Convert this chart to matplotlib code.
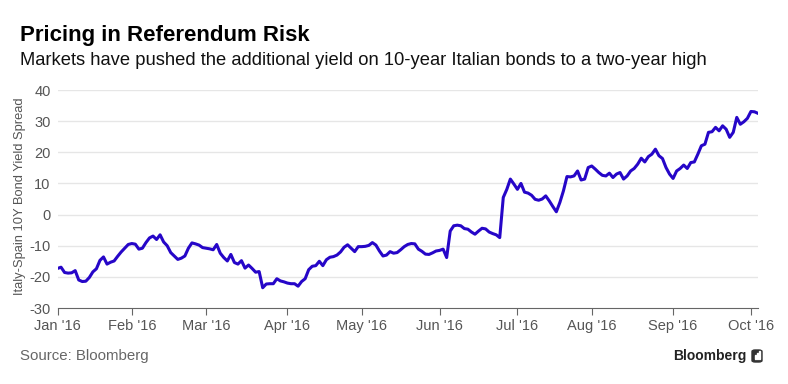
import numpy as np
import pandas as pd
import matplotlib
matplotlib.use('Agg')
import matplotlib.pyplot as plt
from matplotlib.patches import FancyBboxPatch, Rectangle

plt.rcParams['font.family'] = ['Liberation Sans', 'DejaVu Sans']
plt.rcParams['axes.unicode_minus'] = False

# business days, Jan 1 2016 -> Oct 5 2016
days = pd.bdate_range('2016-01-01', '2016-10-05')

# Italy-Spain 10Y spread (bp), one value per business day
spread = [
    -17.3, -16.9, -18.6, -18.8, -18.7, -18.0, -21.0, -21.5, -21.4, -20.2,
    -18.4, -17.4, -14.7, -13.6, -15.9, -15.3, -14.9, -13.4, -12.0, -10.8,
    -9.6, -9.3, -9.5, -11.1, -10.8, -9.0, -7.5, -6.9, -8.0, -6.5,
    -8.8, -10.0, -12.2, -13.3, -14.4, -14.0, -13.3, -10.8, -9.1, -9.4,
    -9.8, -10.6, -10.8, -11.0, -11.3, -9.6, -12.4, -13.8, -14.9, -12.8,
    -15.4, -15.9, -14.8, -17.2, -16.2, -17.3, -18.5, -18.3, -23.5, -22.3,
    -22.2, -22.2, -20.6, -21.3, -21.6, -22.0, -22.2, -22.2, -23.0, -21.5,
    -20.6, -17.7, -16.6, -16.4, -15.0, -16.4, -14.5, -13.7, -13.5, -13.0,
    -12.0, -10.5, -9.7, -10.8, -11.9, -10.3, -10.3, -10.2, -9.9, -9.0,
    -9.8, -11.7, -13.3, -13.0, -11.9, -12.4, -12.2, -11.3, -10.3, -9.6,
    -9.3, -9.4, -11.1, -11.8, -12.7, -12.8, -12.3, -11.7, -11.5, -11.1,
    -13.8, -5.3, -3.6, -3.4, -3.6, -4.5, -4.7, -5.6, -6.3, -5.3,
    -4.4, -4.6, -5.6, -6.1, -6.5, -7.4, 5.5, 8.1, 11.4, 9.8,
    8.1, 10.0, 7.2, 6.9, 6.2, 4.9, 4.6, 5.0, 6.0, 4.4,
    2.6, 0.9, 3.9, 7.6, 12.2, 12.1, 12.4, 14.0, 11.1, 11.4,
    15.1, 15.6, 14.6, 13.5, 12.6, 12.4, 13.3, 11.9, 13.0, 13.5,
    11.4, 12.4, 14.0, 14.8, 16.2, 18.1, 16.9, 18.6, 19.4, 21.0,
    18.9, 18.0, 15.1, 13.0, 11.6, 14.0, 14.8, 15.9, 14.8, 16.7,
    16.9, 19.4, 22.1, 22.6, 26.4, 26.6, 28.0, 26.9, 28.5, 27.4,
    24.8, 26.4, 31.2, 29.0, 29.8, 30.9, 33.1, 33.0, 32.5,
]
y_ticks = [-30, -20, -10, 0, 10, 20, 30, 40]

W, H = 788, 384
fig = plt.figure(figsize=(W / 100, H / 100), dpi=100)
ax = fig.add_axes([57.5 / W, 1 - 308 / H, 700.5 / W, 218 / H])

x = np.arange(len(spread))
ax.plot(x, spread, color='#2606c8', lw=2.2, solid_joinstyle='round', zorder=3)

ax.set_xlim(0, len(spread) - 1)
ax.set_ylim(-30, 40)
ax.set_yticks(y_ticks)
for v in y_ticks[1:]:
    ax.axhline(v, color='#e6e6e6', lw=1, zorder=0)

# ticks at first business day of each month
idx = [i for i in range(len(days)) if i == 0 or days[i].month != days[i - 1].month]
ax.set_xticks(idx)
ax.set_xticklabels([days[i].strftime("%b '%y") for i in idx])

for s in ['top', 'right', 'left']:
    ax.spines[s].set_visible(False)
ax.spines['bottom'].set_color('#666666')
ax.tick_params(axis='y', length=0, pad=5, labelsize=10.5, labelcolor='#555555')
ax.tick_params(axis='x', length=5, color='#666666', labelsize=10.5,
               labelcolor='#555555', pad=3)

fig.text(20 / W, 1 - 196 / H, 'Italy-Spain 10Y Bond Yield Spread', rotation=90,
         ha='center', va='center', fontsize=9.3, color='#555555')

fig.text(20 / W, 1 - 41 / H, 'Pricing in Referendum Risk', fontsize=16,
         weight='bold', color='black', va='baseline')
fig.text(20 / W, 1 - 65 / H,
         'Markets have pushed the additional yield on 10-year Italian bonds to a two-year high',
         fontsize=13.2, color='#111111', va='baseline')

fig.text(20 / W, 1 - 360 / H, 'Source: Bloomberg', fontsize=10.8, color='#666666',
         va='baseline')
fig.text(747 / W, 1 - 360 / H, 'Bloomberg', fontsize=10, weight='bold',
         color='#222222', va='baseline', ha='right')
# little logo box
fig.patches.append(FancyBboxPatch((752 / W, 1 - 362 / H), 10 / W, 12 / H,
                                  boxstyle='round,pad=0,rounding_size=0.004',
                                  transform=fig.transFigure, color='#333333'))
for k, hgt in enumerate([4, 6, 8]):
    fig.patches.append(Rectangle(((754.5 + k * 2.3) / W, 1 - 359 / H), 1.2 / W, hgt / H,
                                 transform=fig.transFigure, color='white'))

fig.savefig('out.png', dpi=100)
